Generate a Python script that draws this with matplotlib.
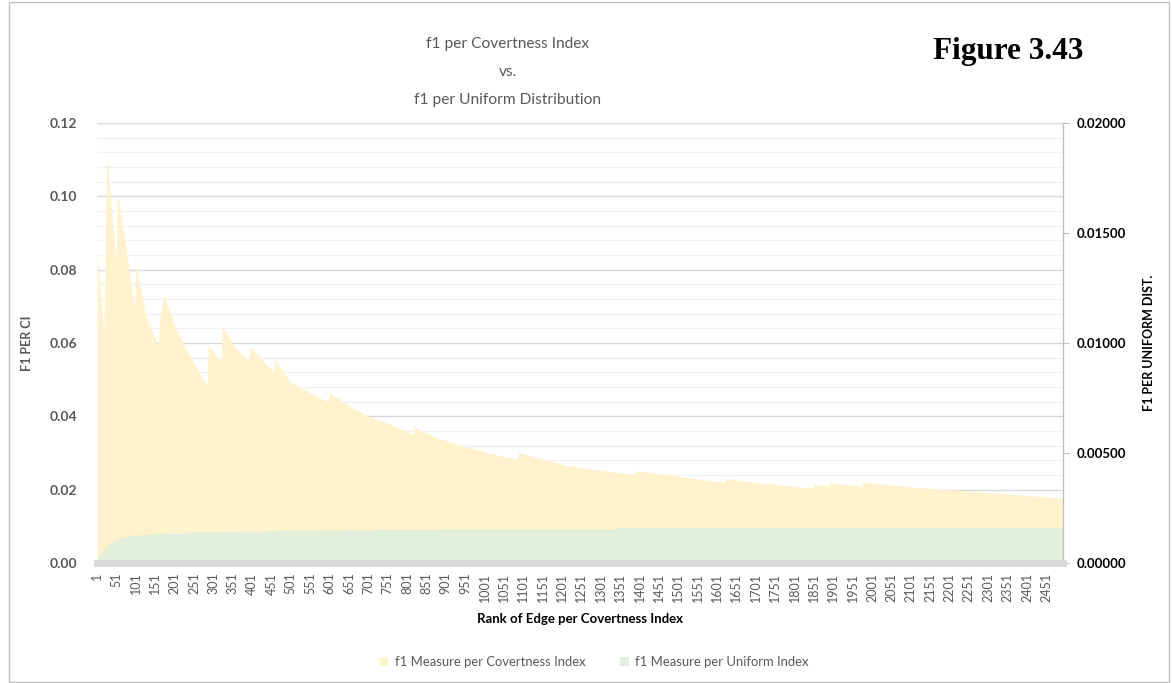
import matplotlib
matplotlib.use("Agg")
import matplotlib.pyplot as plt
from matplotlib.patches import Patch, Rectangle
from matplotlib.ticker import MultipleLocator, FuncFormatter

# f1 per Covertness Index (left axis), sampled at rank positions
ci_rank = [1, 19, 22, 27, 38, 51, 53, 77, 98, 101, 128, 159, 163, 174, 196, 226,
           256, 286, 288, 322, 324, 359, 394, 396, 458, 460, 498, 567, 598, 600,
           650, 704, 760, 816, 818, 870, 936, 1010, 1087, 1089, 1150, 1212, 1280,
           1341, 1389, 1391, 1505, 1621, 1623, 1763, 1849, 1851, 1888, 1890, 1974,
           1976, 2142, 2330, 2494]
ci_value = [0.0845, 0.0622, 0.0877, 0.1109, 0.0968, 0.0818, 0.1009, 0.0854, 0.0690,
            0.0818, 0.0672, 0.0590, 0.0668, 0.0731, 0.0663, 0.0592, 0.0536, 0.0483,
            0.0595, 0.0547, 0.0647, 0.0586, 0.0549, 0.0590, 0.0519, 0.0556, 0.0495,
            0.0454, 0.0440, 0.0465, 0.0430, 0.0400, 0.0377, 0.0352, 0.0372, 0.0345,
            0.0322, 0.0300, 0.0283, 0.0301, 0.0284, 0.0267, 0.0256, 0.0247, 0.0241,
            0.0252, 0.0236, 0.0219, 0.0229, 0.0213, 0.0204, 0.0213, 0.0210, 0.0219,
            0.0210, 0.0220, 0.0204, 0.0190, 0.0177]

# f1 per Uniform Index (right axis)
uni_rank = [1, 4, 8, 12, 17, 28, 42, 58, 77, 110, 163, 275, 500, 755, 1000, 1332,
            1340, 2494]
uni_value = [0.0, 0.00020, 0.00036, 0.00048, 0.00059, 0.00080, 0.00097, 0.00110,
             0.00120, 0.00128, 0.00135, 0.00142, 0.00148, 0.00153, 0.00154, 0.00155,
             0.00160, 0.00160]

x_ticks = list(range(1, 2452, 50))
title_lines = ["f1 per Covertness Index", "vs.", "f1 per Uniform Distribution"]
legend_labels = ["f1 Measure per Covertness Index", "f1 Measure per Uniform Index"]

YELLOW = "#FFF2CC"
GREEN = "#E2EFDA"
GREY_TXT = "#595959"

plt.rcParams["font.family"] = ["Lato", "DejaVu Sans"]

fig = plt.figure(figsize=(11.72, 6.83), dpi=100)
ax = fig.add_axes([0.0828, 0.1757, 0.8242, 0.6442])
ax2 = ax.twinx()

ax.fill_between(ci_rank, ci_value, 0, color=YELLOW, linewidth=0, zorder=2)
ax2.fill_between(uni_rank, uni_value, 0, color=GREEN, linewidth=0, zorder=2)

ax.set_xlim(1, 2494)
ax.set_ylim(0, 0.12)
ax2.set_ylim(0, 0.02)

# gridlines
ax.set_axisbelow(True)
ax.yaxis.set_major_locator(MultipleLocator(0.02))
ax.yaxis.set_minor_locator(MultipleLocator(0.004))
ax.grid(axis="y", which="major", color="#D9D9D9", linewidth=1.0, zorder=0)
ax.grid(axis="y", which="minor", color="#F0F0F0", linewidth=1.0, zorder=0)
ax.grid(axis="x", visible=False)
ax.yaxis.set_major_formatter(FuncFormatter(lambda v, p: f"{v:.2f}"))
ax.tick_params(axis="y", which="both", length=0, labelsize=10, labelcolor=GREY_TXT, pad=14)
for lbl in ax.get_yticklabels():
    lbl.set_fontweight("bold")

ax2.yaxis.set_major_locator(MultipleLocator(0.005))
ax2.yaxis.set_major_formatter(FuncFormatter(lambda v, p: f"{v:.5f}"))
ax2.tick_params(axis="y", length=4, color="#BFBFBF", labelsize=9.5, labelcolor="black", pad=6)
for lbl in ax2.get_yticklabels():
    lbl.set_fontweight("bold")

ax.set_xticks(x_ticks)
ax.set_xticklabels([str(t) for t in x_ticks], rotation=90)
ax.tick_params(axis="x", length=0, labelsize=9, labelcolor=GREY_TXT, pad=7)

for a in (ax, ax2):
    for s in ("top", "left", "bottom", "right"):
        a.spines[s].set_visible(False)
ax2.spines["right"].set_visible(True)
ax2.spines["right"].set_color("#BFBFBF")
ax2.spines["right"].set_linewidth(1.0)

# thick category axis line
ax2.axhline(0, color="#D9D9D9", linewidth=5, zorder=5, clip_on=False)

ax.set_ylabel("F1 PER CI", fontsize=9, fontweight="bold", color=GREY_TXT, labelpad=12)
ax2.set_ylabel("F1 PER UNIFORM DIST.", fontsize=9, fontweight="bold", color="black", labelpad=12)
ax.set_xlabel("Rank of Edge per Covertness Index", fontsize=9.5, fontweight="bold",
              color="black", labelpad=8)

# titles
for i, line in enumerate(title_lines):
    fig.text(508 / 1172, 1 - (44 + 28 * i) / 683, line, ha="center", va="center",
             fontsize=11.2, color=GREY_TXT)
fig.text(1008 / 1172, 1 - 52 / 683, "Figure 3.43", ha="center", va="center",
         fontsize=22.5, fontweight="bold", family="Liberation Serif", color="black")

handles = [Patch(facecolor=YELLOW, edgecolor="none"), Patch(facecolor=GREEN, edgecolor="none")]
fig.legend(handles, legend_labels, loc="center", bbox_to_anchor=(594 / 1172, 1 - 662 / 683),
           ncol=2, frameon=False, fontsize=9.4, labelcolor=GREY_TXT,
           handlelength=0.7, handleheight=0.7, columnspacing=2.6, handletextpad=0.5)

# outer chart border
fig.patches.append(Rectangle((9 / 1172, 1 / 683), 1160 / 1172, 680 / 683,
                             transform=fig.transFigure, fill=False,
                             edgecolor="#BFBFBF", linewidth=1.0))

fig.savefig("out.png", dpi=100)
